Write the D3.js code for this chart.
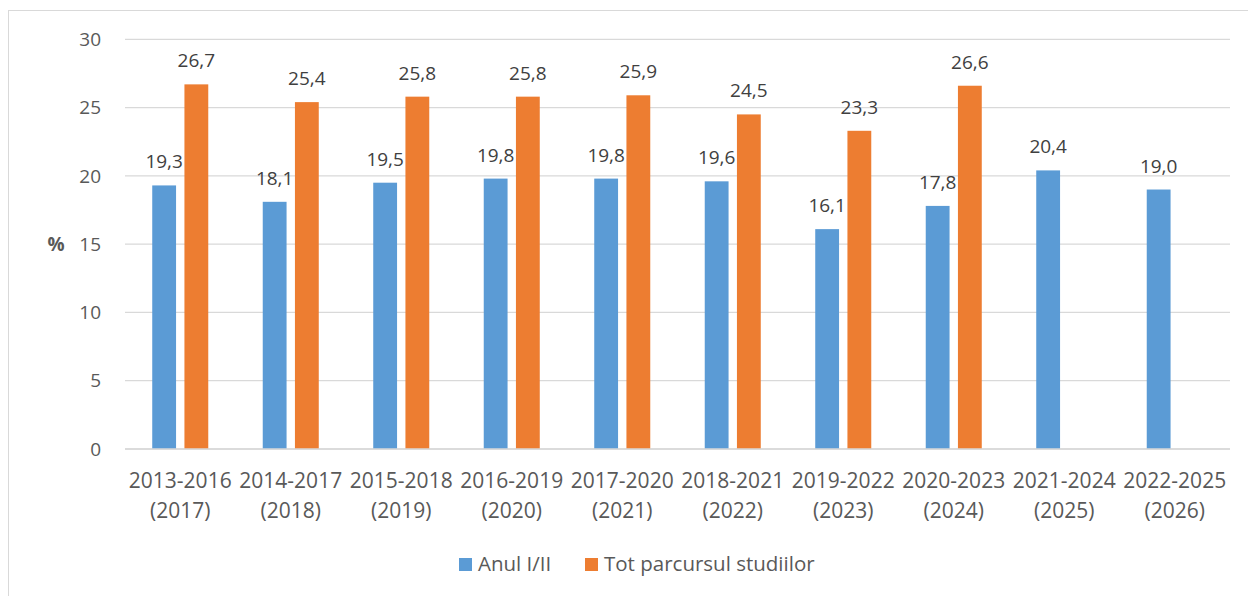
<!DOCTYPE html>
<html>
<head>
<meta charset="utf-8">
<script src="https://cdn.jsdelivr.net/npm/d3@7"></script>
<style>
  body { margin: 0; background: #fff; }
  svg text { font-family: "Open Sans", sans-serif; }
</style>
</head>
<body>
<div id="chart"></div>
<script>
// categories (two lines each)
var years = ['2013-2016', '2014-2017', '2015-2018', '2016-2019', '2017-2020',
	'2018-2021', '2019-2022', '2020-2023', '2021-2024', '2022-2025'];
var gradYears = ['(2017)', '(2018)', '(2019)', '(2020)', '(2021)',
	'(2022)', '(2023)', '(2024)', '(2025)', '(2026)'];
var seriesNames = ['Anul I/II', 'Tot parcursul studiilor'];
var anul = [19.3, 18.1, 19.5, 19.8, 19.8, 19.6, 16.1, 17.8, 20.4, 19.0];
var totParcursul = [26.7, 25.4, 25.8, 25.8, 25.9, 24.5, 23.3, 26.6, null, null];
var yTicks = [0, 5, 10, 15, 20, 25, 30];

var colors = ['#5b9bd5', '#ed7d31'];
var width = 1248, height = 596;
var fmt = v => v.toFixed(1).replace('.', ',');

var svg = d3.select('#chart').append('svg')
	.attr('width', width)
	.attr('height', height);

// outer chart frame (runs off the right and bottom of the picture)
svg.append('rect')
	.attr('x', 8.5).attr('y', 10.5)
	.attr('width', 1260).attr('height', 600)
	.attr('fill', 'none')
	.attr('stroke', '#d9d9d9');

var x0 = d3.scaleBand()
	.domain(years)
	.range([125, 1230])
	.paddingInner(0.493)
	.paddingOuter(0.2465);
var x1 = d3.scaleBand()
	.domain(seriesNames)
	.range([0, x0.bandwidth()])
	.paddingInner(0.26);
var y = d3.scaleLinear()
	.domain([0, 30])
	.range([449, 39.3]);

// gridlines
svg.append('g')
	.selectAll('line')
	.data(yTicks)
	.enter().append('line')
	.attr('x1', 125).attr('x2', 1230)
	.attr('y1', d => y(d)).attr('y2', d => y(d))
	.attr('stroke', '#d9d9d9')
	.attr('stroke-width', 1.3);

// y tick labels
svg.append('g')
	.selectAll('text')
	.data(yTicks)
	.enter().append('text')
	.attr('x', 101)
	.attr('y', d => y(d))
	.attr('dy', '0.35em')
	.attr('text-anchor', 'end')
	.attr('font-size', '19px')
	.attr('fill', '#595959')
	.text(d => d);

svg.append('text')
	.attr('x', 56).attr('y', y(15))
	.attr('dy', '0.35em')
	.attr('text-anchor', 'middle')
	.attr('font-size', '19px')
	.attr('font-weight', 'bold')
	.attr('fill', '#595959')
	.text('%');

// bars
var rows = years.map((c, i) => ({cat: c, vals: [anul[i], totParcursul[i]]}));
var groups = svg.append('g')
	.selectAll('g')
	.data(rows)
	.enter().append('g')
	.attr('transform', d => 'translate(' + x0(d.cat) + ',0)');

var cells = groups.selectAll('g.cell')
	.data(d => d.vals.map((v, j) => ({s: seriesNames[j], v: v, j: j})).filter(e => e.v != null))
	.enter().append('g')
	.attr('class', 'cell');

cells.append('rect')
	.attr('x', d => x1(d.s))
	.attr('y', d => y(d.v))
	.attr('width', x1.bandwidth())
	.attr('height', d => y(0) - y(d.v))
	.attr('fill', d => colors[d.j]);

cells.append('text')
	.attr('x', d => x1(d.s) + x1.bandwidth() / 2)
	.attr('y', d => y(d.v) - 17)
	.attr('text-anchor', 'middle')
	.attr('font-size', '19px')
	.attr('fill', '#404040')
	.text(d => fmt(d.v));

// x axis line
svg.append('line')
	.attr('x1', 125).attr('x2', 1230)
	.attr('y1', y(0)).attr('y2', y(0))
	.attr('stroke', '#d9d9d9')
	.attr('stroke-width', 1.5);

// x category labels
var xl = svg.append('g')
	.selectAll('text')
	.data(years)
	.enter().append('text')
	.attr('text-anchor', 'middle')
	.attr('font-size', '21px')
	.attr('fill', '#595959');
xl.append('tspan')
	.attr('x', d => x0(d) + x0.bandwidth() / 2)
	.attr('y', 488)
	.text(d => d);
xl.append('tspan')
	.attr('x', d => x0(d) + x0.bandwidth() / 2)
	.attr('y', 518)
	.text((d, i) => gradYears[i]);

// legend
var legendX = [459, 585];
var legend = svg.append('g')
	.selectAll('g')
	.data(seriesNames)
	.enter().append('g')
	.attr('transform', (d, i) => 'translate(' + legendX[i] + ',558)');
legend.append('rect')
	.attr('width', 13).attr('height', 13)
	.attr('fill', (d, i) => colors[i]);
legend.append('text')
	.attr('x', 19).attr('y', 13)
	.attr('font-size', '20.5px')
	.attr('fill', '#595959')
	.text(d => d);
</script>
</body>
</html>
